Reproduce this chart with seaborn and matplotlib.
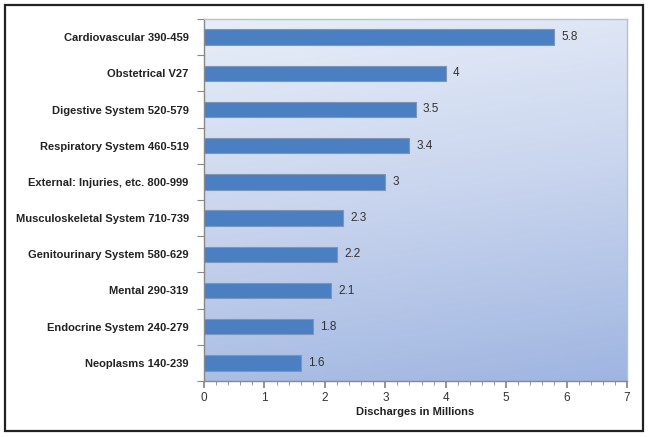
import matplotlib
matplotlib.use("Agg")
import matplotlib.pyplot as plt
import seaborn as sns
import numpy as np
import pandas as pd
from matplotlib.ticker import MultipleLocator
from matplotlib.patches import Rectangle
from matplotlib.colors import LinearSegmentedColormap

categories = ["Cardiovascular 390-459", "Obstetrical V27", "Digestive System 520-579",
              "Respiratory System 460-519", "External: Injuries, etc. 800-999",
              "Musculoskeletal System 710-739", "Genitourinary System 580-629",
              "Mental 290-319", "Endocrine System 240-279", "Neoplasms 140-239"]
values = [5.8, 4, 3.5, 3.4, 3, 2.3, 2.2, 2.1, 1.8, 1.6]
labels = ["5.8", "4", "3.5", "3.4", "3", "2.3", "2.2", "2.1", "1.8", "1.6"]

df = pd.DataFrame({"category": categories, "value": values})

sns.set_theme(style="white")
plt.rcParams['font.family'] = ['Liberation Sans', 'DejaVu Sans']

fig = plt.figure(figsize=(6.49, 4.37), dpi=100)
ax = fig.add_axes([204/649, 1-381/437, (627-204)/649, (381-19)/437])

# gradient background (light at top, darker toward bottom-right)
cmap = LinearSegmentedColormap.from_list("bg", ["#e8eef8", "#c8d4ee", "#9fb5e0"])
yy, xx = np.mgrid[0:1:200j, 0:1:200j]
grad = 0.85 * (1 - yy) + 0.15 * xx
ax.imshow(grad, extent=[0, 1, 0, 1], transform=ax.transAxes, cmap=cmap, origin="lower",
          aspect='auto', zorder=0, vmin=0, vmax=1)

sns.barplot(data=df, x="value", y="category", color="#4a7fc1", saturation=1,
            width=0.42, edgecolor="#7f95b5", linewidth=0.8, ax=ax, zorder=2)

for i, (v, t) in enumerate(zip(values, labels)):
    ax.text(v + 0.12, i, t, va="center", ha="left", fontsize=8.5, color="#333333", zorder=3)

ax.set_xlim(0, 7)
ax.set_ylim(9.5, -0.5)
ax.xaxis.set_major_locator(MultipleLocator(1))
ax.xaxis.set_minor_locator(MultipleLocator(0.2))
ax.set_yticks(np.arange(-0.5, 10, 1), minor=True)
ax.tick_params(axis="y", which="major", length=0, pad=11, labelsize=8)
ax.tick_params(axis="y", which="minor", left=True, length=5, color="#888888", width=0.8)
ax.tick_params(axis="x", which="major", bottom=True, length=5, color="#888888",
               labelsize=8.5, labelcolor="#333333", pad=3)
ax.tick_params(axis="x", which="minor", bottom=True, length=3, color="#888888", width=0.6)
for lab in ax.get_yticklabels():
    lab.set_fontweight("bold")
    lab.set_color("#222222")
ax.set_xlabel("Discharges in Millions", fontsize=8, fontweight="bold", color="#222222", labelpad=2)
ax.set_ylabel("")

for s in ["left", "bottom"]:
    ax.spines[s].set_color("#888888")
    ax.spines[s].set_linewidth(1.0)
for s in ["top", "right"]:
    ax.spines[s].set_color("#b8c0cc")
    ax.spines[s].set_linewidth(1.0)

fig.patches.append(Rectangle((5/649, 1-431/437), (643-5)/649, (431-5)/437,
                             transform=fig.transFigure, fill=False,
                             edgecolor="#222222", linewidth=1.6))

fig.savefig("out.png", dpi=100, facecolor="white")
